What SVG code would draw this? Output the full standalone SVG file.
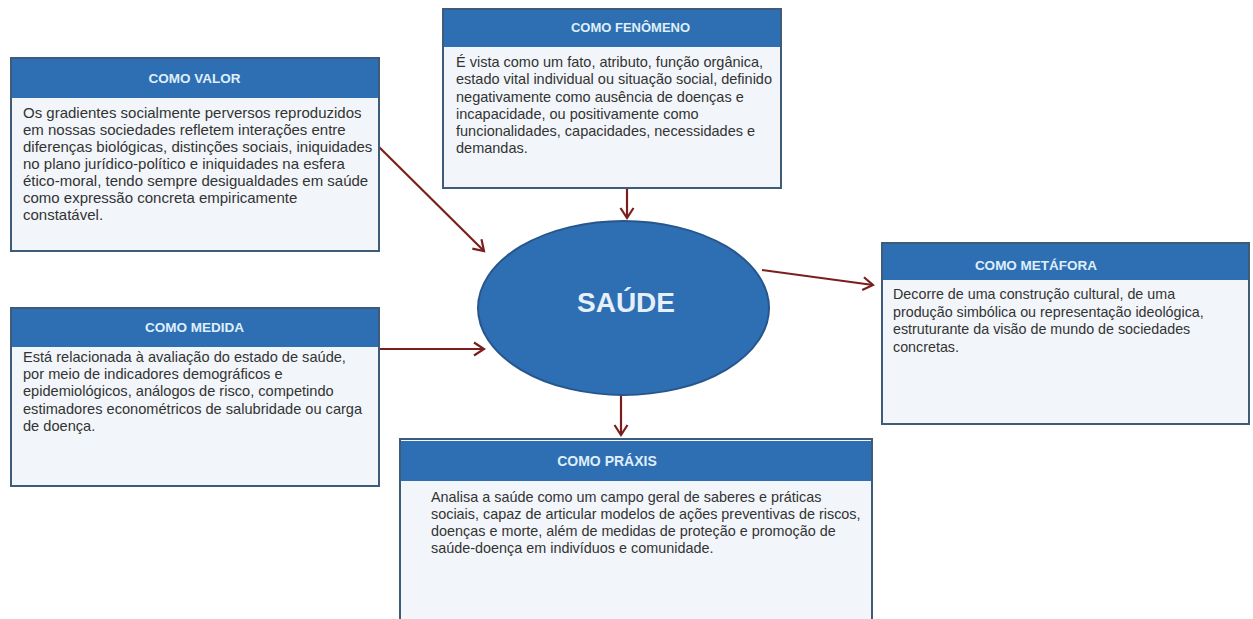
<svg xmlns="http://www.w3.org/2000/svg" width="1253" height="619" viewBox="0 0 1253 619">
<style>
.box{fill:#f2f6fa;stroke:#3e5b79;stroke-width:2}
.hdr{fill:#2e6fb3}
.ht{font-family:"Liberation Sans",Arial,sans-serif;font-weight:bold;font-size:13.5px;fill:#dfeefa;text-anchor:middle}
.bt{font-family:"Liberation Sans",Arial,sans-serif;font-size:14.3px;fill:#333333;white-space:pre}
.con{stroke:#7b1e1e;stroke-width:2.2;fill:none}
</style>
<defs>
<marker id="ah" markerUnits="userSpaceOnUse" markerWidth="16" markerHeight="16" refX="12" refY="8" orient="auto" viewBox="0 0 16 16">
<path d="M2,1.5 L12,8 L2,14.5" fill="none" stroke="#7b1e1e" stroke-width="2.2"/>
</marker>
</defs>
<rect width="1253" height="619" fill="#ffffff"/>

<g id="connectors">
<line class="con" x1="627" y1="188" x2="627" y2="218" marker-end="url(#ah)"/>
<line class="con" x1="379" y1="147" x2="484" y2="251" marker-end="url(#ah)"/>
<line class="con" x1="379" y1="349" x2="484" y2="349" marker-end="url(#ah)"/>
<line class="con" x1="762" y1="270" x2="873" y2="285" marker-end="url(#ah)"/>
<line class="con" x1="621" y1="395" x2="621" y2="435" marker-end="url(#ah)"/>
</g>

<g id="saude">
<ellipse cx="623.5" cy="308" rx="145.5" ry="87" fill="#2e6fb3" stroke="#27568c" stroke-width="2"/>
<text x="626" y="312" font-family="'Liberation Sans',Arial,sans-serif" font-weight="bold" font-size="28" fill="#e6f0fa" text-anchor="middle">SAÚDE</text>
</g>

<g id="como-valor">
<rect class="box" x="11" y="58" width="368" height="193"/>
<rect class="hdr" x="12" y="59" width="366" height="39"/>
<text class="ht" x="194.5" y="83">COMO VALOR</text>
<g class="bt" style="font-size:15px">
<text x="23" y="118">Os gradientes socialmente perversos reproduzidos</text>
<text x="23" y="135">em nossas sociedades refletem interações entre</text>
<text x="23" y="152">diferenças biológicas, distinções sociais, iniquidades</text>
<text x="23" y="169">no plano jurídico-político e iniquidades na esfera</text>
<text x="23" y="186">ético-moral, tendo sempre desigualdades em saúde</text>
<text x="23" y="203">como expressão concreta empiricamente</text>
<text x="23" y="220">constatável.</text>
</g>
</g>

<g id="como-fenomeno">
<rect class="box" x="443" y="9" width="338" height="179"/>
<rect class="hdr" x="444" y="10" width="336" height="37"/>
<text class="ht" x="630.5" y="32" style="font-size:13px">COMO FENÔMENO</text>
<g class="bt" style="font-size:14.5px">
<text x="456" y="67">É vista como um fato, atributo, função orgânica,</text>
<text x="456" y="84">estado vital individual ou situação social, definido</text>
<text x="456" y="101.5">negativamente como ausência de doenças e</text>
<text x="456" y="118.5">incapacidade, ou positivamente como</text>
<text x="456" y="136">funcionalidades, capacidades, necessidades e</text>
<text x="456" y="153">demandas.</text>
</g>
</g>

<g id="como-medida">
<rect class="box" x="11" y="308" width="368" height="178"/>
<rect class="hdr" x="12" y="309" width="366" height="38"/>
<text class="ht" x="194.5" y="332">COMO MEDIDA</text>
<g class="bt" style="font-size:14.6px">
<text x="23" y="362">Está relacionada à avaliação do estado de saúde,</text>
<text x="23" y="379">por meio  de indicadores demográficos e</text>
<text x="23" y="396">epidemiológicos,  análogos de risco, competindo</text>
<text x="23" y="414">estimadores econométricos de salubridade ou carga</text>
<text x="23" y="431">de doença.</text>
</g>
</g>

<g id="como-metafora">
<rect class="box" x="882" y="243" width="367" height="181"/>
<rect class="hdr" x="883" y="244" width="365" height="36"/>
<text class="ht" x="1036" y="270">COMO METÁFORA</text>
<g class="bt">
<text x="893" y="299">Decorre de uma  construção cultural, de uma</text>
<text x="893" y="316.5">produção simbólica ou representação ideológica,</text>
<text x="893" y="334">estruturante da visão de mundo  de sociedades</text>
<text x="893" y="352">concretas.</text>
</g>
</g>

<g id="como-praxis">
<rect class="box" x="400" y="439" width="472" height="200"/>
<rect class="hdr" x="401" y="441" width="470" height="40"/>
<text class="ht" x="607" y="466" style="font-size:14px">COMO PRÁXIS</text>
<g class="bt" style="font-size:14.4px">
<text x="431" y="502">Analisa a saúde como  um campo  geral de saberes e práticas</text>
<text x="431" y="519">sociais, capaz de articular modelos  de ações preventivas de riscos,</text>
<text x="431" y="536">doenças e morte, além de medidas  de proteção e promoção de</text>
<text x="431" y="553">saúde-doença em indivíduos e comunidade.</text>
</g>
</g>
</svg>
